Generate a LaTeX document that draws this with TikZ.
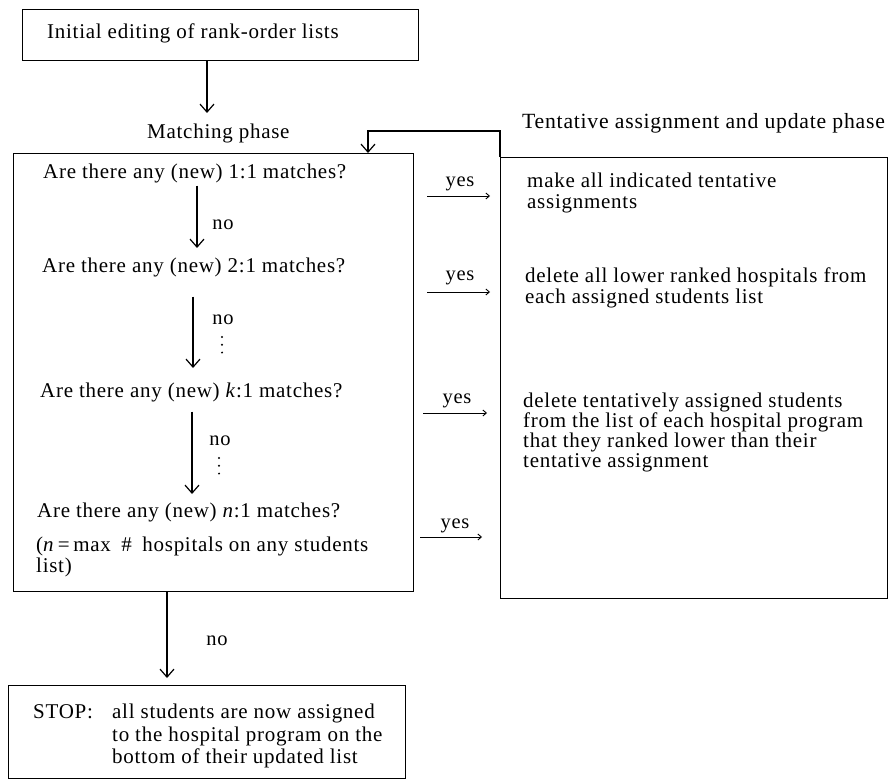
\documentclass[tikz,border=0pt]{standalone}
\usepackage{fontspec}
\setmainfont{Liberation Serif}[LetterSpace=3.5]
\usetikzlibrary{arrows.meta, positioning, calc}

\begin{document}
\begin{tikzpicture}[
    x=1pt, y=-1pt,
    every node/.style={font=\fontsize{21}{21}\selectfont, inner sep=0pt},
    txt/.style={anchor=base west},
    lab/.style={anchor=base, font=\fontsize{20.5}{21}\selectfont},
    frame/.style={draw, line width=1.3pt, anchor=north west},
    arr/.style={line width=1.2pt, -{Straight Barb[length=8pt, width=14pt, line width=1.2pt]}},
    yarr/.style={line width=0.9pt, -{Straight Barb[length=3.5pt, width=6pt]}},
]
\useasboundingbox (0,0) rectangle (891,783);

% the four frames
\node[frame, minimum width=396pt, minimum height=51pt] (init) at (22,9) {};
\node[frame, minimum width=400pt, minimum height=438pt] (match) at (13,153) {};
\node[frame, minimum width=387pt, minimum height=441pt] (upd) at (500,157) {};
\node[frame, minimum width=397pt, minimum height=93pt] (stop) at (8,685) {};

% headings
\node[txt] (initT) at (47,39) {Initial editing of rank-order lists};
\node[txt] (mphase) at (147,139) {Matching phase};
\node[txt, font=\fontsize{21.7}{22}\selectfont] (uphase) at (522,129) {Tentative assignment and update phase};

% matching phase questions
\node[txt] (q1) at (43,179) {Are there any (new) 1:1 matches?};
\node[txt] (q2) at (42,273) {Are there any (new) 2:1 matches?};
\node[txt] (q3) at (40,397) {Are there any (new) \textit{k}:1 matches?};
\node[txt] (q4) at (37,517) {Are there any (new) \textit{n}:1 matches?};
\node[txt] (note1) at (36,551) {(\textit{n}\,=\,max\enspace\#\enspace hospitals on any students};
\node[txt] (note2) at (36,572) {list)};

% update phase texts
\node[txt] (u1a) at (527,188) {make all indicated tentative};
\node[txt] (u1b) at (527,209) {assignments};
\node[txt] (u2a) at (525,283) {delete all lower ranked hospitals from};
\node[txt] (u2b) at (525,304) {each assigned students list};
\node[txt] (u3a) at (523,407) {delete tentatively assigned students};
\node[txt] (u3b) at (523,427) {from the list of each hospital program};
\node[txt] (u3c) at (523,447) {that they ranked lower than their};
\node[txt] (u3d) at (523,467) {tentative assignment};

% stop
\node[txt] (stopT) at (33,718) {STOP:};
\node[txt] (s1) at (112,718) {all students are now assigned};
\node[txt] (s2) at (112,741) {to the hospital program on the};
\node[txt] (s3) at (112,763) {bottom of their updated list};

% into the matching phase, and back from the update phase
\coordinate (d0) at (207,113);
\draw[arr] (init.south -| d0) -- (d0);
\coordinate (back) at (368,131);
\draw[arr] (upd.north west) |- (back) -- (back |- match.north);

% the no branches
\coordinate (d1) at (197,248);
\coordinate (d2) at (193,368);
\coordinate (d3) at (192,494);
\coordinate (d4) at (167,678);
\draw[arr, shorten <=2pt] (q1.south -| d1) -- (d1);
\draw[arr, shorten <=19pt] (q2.south -| d2) -- (d2);
\draw[arr, shorten <=10pt] (q3.south -| d3) -- (d3);
\draw[arr] (match.south -| d4) -- (d4);
\node[lab] (no1) at (223,230) {no};
\node[lab] (no2) at (223,325) {no};
\node[lab] (no3) at (220,445) {no};
\node[lab] (no4) at (217,645) {no};
\foreach \x/\y in {222/337, 219/458}{
    \foreach \k in {0,1,2}
        \fill ({\x}, {\y+\k*7.8}) circle (1.1pt);
}

% the yes branches
\foreach \i/\x/\y in {1/460/187, 2/460/281, 3/457/403, 4/455/528}{
    \node[lab] (yes\i) at (\x,\y) {yes};
}
\foreach \i/\a/\y/\e in {1/427/196/10, 2/427/292/10, 3/423/413/13, 4/420/537/18}{
    \coordinate (ya\i) at (\a,\y);
    \draw[yarr, shorten >={\e pt}] (ya\i) -- (upd.west |- ya\i);
}
\end{tikzpicture}
\end{document}
